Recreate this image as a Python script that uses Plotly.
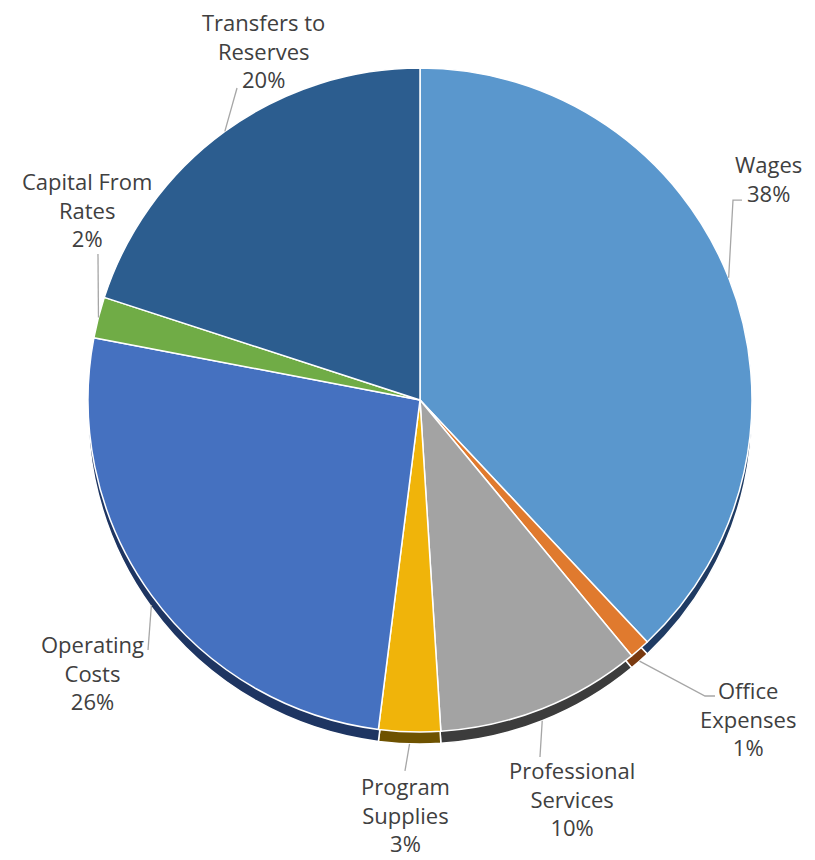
import math
import plotly.graph_objects as go

# slice data, clockwise from 12 o'clock
labels = ["Wages", "Office Expenses", "Professional Services", "Program Supplies",
          "Operating Costs", "Capital From Rates", "Transfers to Reserves"]
values = [38, 1, 10, 3, 26, 2, 20]
label_text = ["Wages<br>38%", "Office<br>Expenses<br>1%", "Professional<br>Services<br>10%",
              "Program<br>Supplies<br>3%", "Operating<br>Costs<br>26%",
              "Capital From<br>Rates<br>2%", "Transfers to<br>Reserves<br>20%"]
colors = ["#5A97CD", "#E07A2E", "#A3A3A3", "#F0B40A", "#4571C0", "#70AC46", "#2C5D8F"]
edge_colors = ["#1F3B63", "#7A3A10", "#3C3C3C", "#6E5200", "#1E3562", "#3B5F24", "#173556"]

# page has an 8px body margin, so the figure is a bit smaller than the window
OFF = 8
W, H = 807, 852
cx, cy, R = 420, 400, 332   # pie centre and radius in window pixels
depth = 12                  # thickness of the dark edge under the pie


def px(x):
    return (x - OFF) / W


def py(y):
    return 1 - (y - OFF) / H


dom_x = [px(cx - R), px(cx + R)]
dom_y = [py(cy + R), py(cy - R)]
dom_y_edge = [py(cy + R + depth), py(cy - R + depth)]

fig = go.Figure()
fig.add_trace(go.Pie(
    labels=labels, values=values, sort=False, direction="clockwise", rotation=0,
    marker=dict(colors=edge_colors, line=dict(color="white", width=1.5)),
    textinfo="none", hoverinfo="skip", showlegend=False,
    domain=dict(x=dom_x, y=dom_y_edge),
))
fig.add_trace(go.Pie(
    labels=labels, values=values, sort=False, direction="clockwise", rotation=0,
    marker=dict(colors=colors, line=dict(color="white", width=1.5)),
    textinfo="none", showlegend=False,
    domain=dict(x=dom_x, y=dom_y),
))

# label placement (text centre) and leader line bend points, in window pixels
label_pos = [(768, 178), (748, 718), (572, 798), (405, 814), (92, 672), (87, 209), (263, 50)]
bend_pos = [[(733, 200), (742, 200)], [(705, 696), (715, 696)], [(540, 757)], [(405, 771)],
            [(148, 650)], [(98, 254)], [(237, 88)]]

total = sum(values)
cum = 0
for v, txt, (lx, ly), bends in zip(values, label_text, label_pos, bend_pos):
    mid = (cum + v / 2) / total * 2 * math.pi
    cum += v
    ex = cx + R * math.sin(mid)
    ey = cy - R * math.cos(mid)
    if math.cos(mid) < 0:
        ey += depth * min(1, -math.cos(mid) * 1.4)
    pts = [(ex, ey)] + bends
    path = "M " + " L ".join(f"{px(x):.4f},{py(y):.4f}" for x, y in pts)
    fig.add_shape(type="path", path=path, xref="paper", yref="paper",
                  line=dict(color="#A6A6A6", width=1.3))
    fig.add_annotation(x=px(lx), y=py(ly), xref="paper", yref="paper", text=txt,
                       showarrow=False, xanchor="center", yanchor="middle",
                       font=dict(size=22, color="#404040", family="Open Sans"))

fig.update_layout(width=W, height=H, margin=dict(l=0, r=0, t=0, b=0),
                  paper_bgcolor="white", plot_bgcolor="white")

fig.write_html("out.html")
